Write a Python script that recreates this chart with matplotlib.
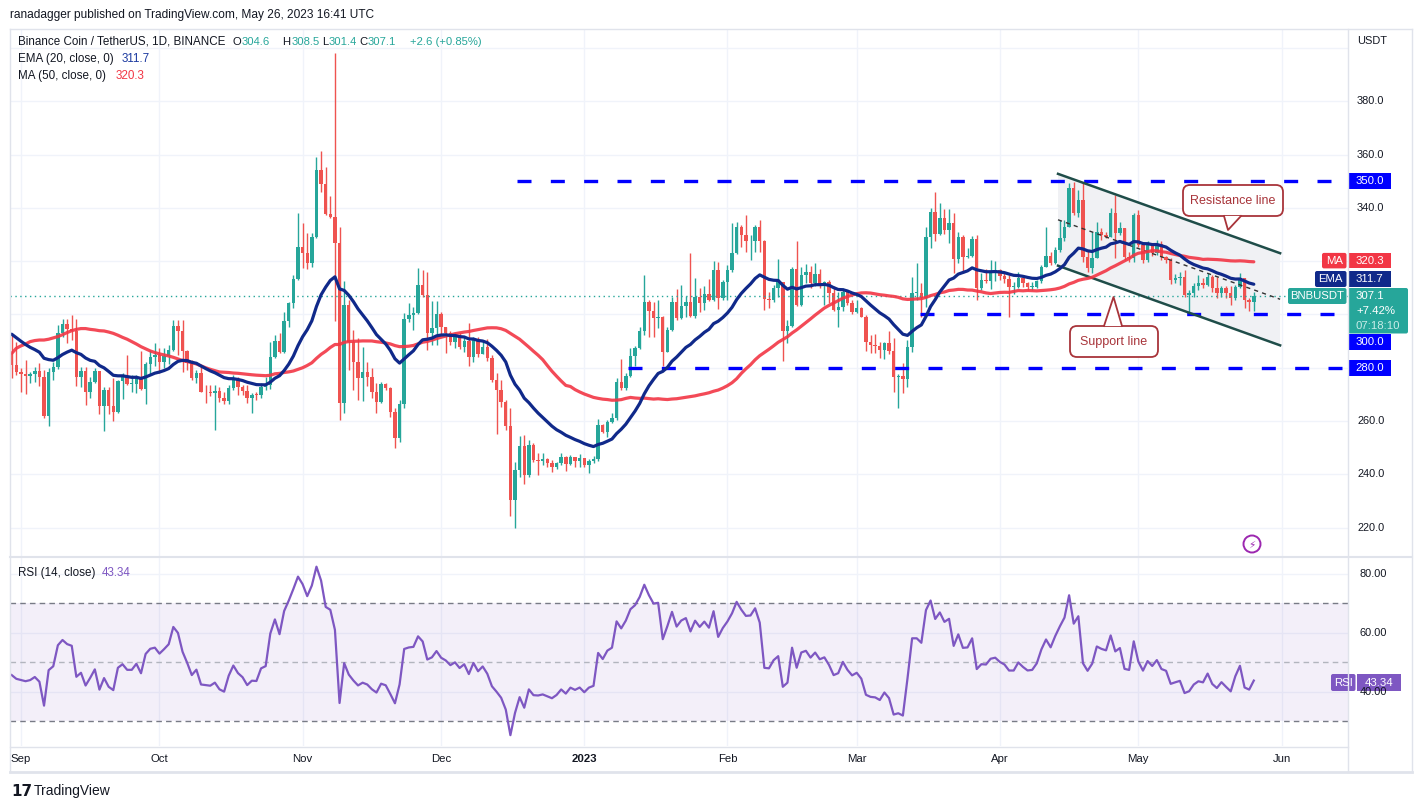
import numpy as np
import pandas as pd
import matplotlib
matplotlib.use("Agg")
import matplotlib.pyplot as plt
import matplotlib.dates as mdates
import matplotlib.transforms as mtrans
from matplotlib.patches import Rectangle, FancyBboxPatch, Polygon, Circle
from matplotlib.lines import Line2D

# ---- data (BNB/USDT daily, 30 Aug 2022 - 26 May 2023) ----
start_date = "2022-08-30"
first_open = 285.4

closes = [
    281.0, 278.5, 277.7, 277.0, 277.5, 278.8, 276.4, 262.0, 278.3, 280.4,
    292.9, 296.4, 294.4, 293.6, 276.7, 278.8, 270.7, 274.5, 278.8, 265.8,
    271.7, 265.8, 263.5, 275.0, 277.0, 273.8, 273.8, 276.7, 271.9, 281.4,
    284.2, 284.8, 282.3, 284.4, 286.7, 295.7, 293.6, 286.4, 281.7, 276.0,
    278.2, 271.0, 270.7, 270.4, 271.4, 268.5, 267.5, 272.3, 275.6, 272.9,
    271.4, 268.5, 269.7, 269.6, 272.9, 273.5, 283.9, 290.0, 286.0, 297.5,
    304.2, 313.2, 325.5, 323.2, 319.5, 329.2, 354.3, 349.0, 337.8, 336.5,
    327.0, 266.6, 303.6, 289.8, 282.3, 276.0, 278.5, 276.4, 271.0, 267.3,
    273.9, 272.3, 263.5, 253.5, 266.4, 298.2, 299.8, 300.4, 311.1, 307.3,
    292.9, 294.8, 300.2, 295.2, 293.2, 289.8, 291.7, 287.9, 290.2, 283.9,
    290.4, 285.2, 287.9, 283.5, 275.4, 271.6, 267.3, 258.1, 230.3, 241.6,
    250.6, 239.7, 251.0, 245.4, 245.1, 245.7, 244.1, 242.6, 244.1, 246.6,
    243.9, 246.4, 245.1, 246.0, 243.5, 245.1, 245.7, 258.5, 256.0, 259.7,
    261.0, 274.8, 272.3, 276.9, 284.4, 287.3, 293.6, 304.8, 301.4, 298.6,
    299.2, 286.0, 294.2, 304.8, 298.6, 303.0, 304.8, 299.4, 306.7, 304.2,
    307.7, 305.4, 316.7, 306.0, 312.0, 316.7, 323.0, 333.0, 329.9, 327.4,
    327.7, 333.0, 327.7, 305.7, 305.4, 309.8, 312.0, 293.6, 295.7, 317.1,
    303.6, 314.8, 316.1, 311.7, 315.2, 311.1, 312.3, 307.9, 301.7, 302.7,
    308.6, 304.2, 301.1, 302.3, 299.2, 289.8, 288.5, 288.2, 286.7, 289.2,
    286.3, 276.6, 277.0, 275.6, 287.9, 308.0, 308.0, 306.1, 329.2, 338.6,
    330.2, 336.1, 331.7, 334.2, 320.7, 329.2, 321.7, 322.0, 328.2, 309.8,
    312.9, 312.7, 316.1, 316.7, 314.5, 313.2, 310.2, 310.2, 313.6, 311.7,
    310.2, 310.4, 312.7, 317.9, 322.0, 319.5, 324.2, 328.6, 333.0, 347.4,
    338.0, 342.8, 321.7, 317.3, 321.1, 331.1, 329.9, 329.2, 338.0, 330.5,
    332.4, 321.7, 321.1, 337.4, 326.1, 320.5, 326.1, 323.2, 326.5, 321.5,
    320.5, 312.9, 313.6, 314.2, 307.3, 308.0, 310.5, 311.7, 311.2, 314.2,
    309.8, 308.0, 309.8, 307.9, 306.1, 310.4, 313.6, 305.4, 304.5, 307.1,
]

highs = [
    292.3, 289.8, 279.8, 282.9, 278.5, 280.4, 281.7, 279.2, 279.8, 282.3,
    296.1, 298.3, 298.3, 299.8, 298.3, 280.4, 280.4, 276.7, 279.8, 278.8,
    272.9, 272.9, 276.0, 275.4, 277.9, 284.8, 277.3, 277.3, 286.1, 282.3,
    286.7, 289.2, 287.3, 287.3, 288.6, 298.0, 298.0, 298.0, 286.7, 282.9,
    279.2, 280.4, 273.5, 273.5, 273.5, 272.9, 271.0, 273.5, 277.3, 276.7,
    273.5, 273.5, 270.4, 271.0, 274.1, 276.4, 289.8, 292.3, 292.9, 301.1,
    304.8, 314.8, 338.0, 334.5, 330.7, 330.5, 359.0, 361.2, 355.5, 344.3,
    398.1, 332.7, 312.7, 305.4, 294.2, 291.0, 287.9, 282.3, 279.8, 274.4,
    274.8, 274.4, 272.9, 264.8, 267.9, 300.4, 304.2, 302.9, 317.3, 316.7,
    316.1, 305.2, 305.2, 301.1, 293.6, 293.6, 293.2, 292.9, 291.4, 296.9,
    291.7, 291.4, 290.4, 290.7, 284.8, 277.9, 275.4, 267.9, 264.8, 244.7,
    254.4, 254.7, 252.9, 251.6, 248.1, 247.9, 246.0, 245.4, 244.7, 248.1,
    246.9, 247.2, 246.4, 247.6, 245.4, 245.7, 246.9, 260.6, 258.9, 260.4,
    263.1, 276.0, 283.2, 277.9, 287.3, 288.2, 295.4, 315.0, 305.4, 304.8,
    305.4, 299.4, 295.4, 306.7, 309.4, 311.1, 306.9, 323.0, 313.6, 309.8,
    310.5, 313.2, 320.2, 319.8, 313.0, 318.6, 334.2, 334.9, 333.6, 337.4,
    329.9, 333.6, 335.5, 328.0, 308.6, 311.1, 320.7, 312.0, 297.9, 317.7,
    327.6, 317.7, 319.0, 318.2, 319.5, 317.0, 312.7, 313.0, 310.5, 308.6,
    309.8, 309.2, 305.4, 305.4, 302.9, 299.7, 292.3, 292.7, 289.8, 289.8,
    293.9, 291.0, 277.6, 281.7, 290.4, 314.0, 319.2, 311.7, 332.7, 339.9,
    346.1, 341.8, 339.5, 339.5, 338.2, 331.1, 329.9, 324.8, 329.5, 329.7,
    315.7, 317.0, 320.5, 320.2, 317.0, 315.5, 314.8, 312.3, 316.1, 314.8,
    312.3, 312.3, 312.9, 318.6, 333.0, 323.6, 325.2, 335.5, 335.5, 349.5,
    349.9, 346.8, 349.3, 324.2, 331.1, 334.9, 332.4, 331.1, 339.9, 344.9,
    334.9, 331.1, 323.6, 338.0, 339.3, 327.0, 327.4, 326.7, 328.0, 327.4,
    322.0, 321.1, 315.2, 316.1, 316.7, 309.2, 311.7, 314.8, 313.6, 315.7,
    314.8, 314.2, 310.5, 310.5, 310.5, 311.1, 315.5, 313.6, 306.1, 308.5,
]

lows = [
    276.0, 277.3, 270.7, 270.2, 274.2, 274.8, 273.2, 261.0, 258.3, 275.4,
    279.4, 291.7, 289.4, 290.4, 273.2, 272.9, 266.0, 268.5, 274.2, 262.6,
    256.4, 262.6, 260.1, 262.9, 268.2, 273.5, 270.7, 270.4, 271.7, 266.3,
    277.3, 280.7, 277.9, 279.8, 281.4, 286.1, 284.8, 278.5, 279.2, 275.4,
    274.4, 270.7, 266.9, 269.2, 256.6, 267.3, 266.5, 266.5, 271.5, 269.8,
    269.8, 266.6, 263.1, 267.9, 268.5, 271.6, 271.9, 283.5, 285.4, 285.4,
    295.2, 302.3, 313.0, 317.3, 317.0, 318.0, 328.6, 345.8, 337.4, 336.1,
    297.7, 260.4, 263.1, 279.2, 271.6, 267.9, 267.6, 273.0, 268.5, 262.9,
    266.6, 271.6, 261.6, 249.7, 252.2, 264.8, 297.3, 294.2, 300.2, 306.7,
    286.7, 288.6, 288.6, 292.3, 285.4, 288.6, 287.3, 286.9, 286.0, 280.7,
    282.3, 283.9, 285.2, 282.7, 274.8, 255.1, 265.4, 256.6, 224.3, 219.7,
    239.1, 236.3, 238.8, 244.7, 239.7, 243.5, 242.9, 241.0, 241.9, 243.5,
    241.4, 243.5, 242.9, 242.9, 242.9, 240.6, 244.4, 245.1, 255.4, 254.1,
    259.1, 260.4, 271.6, 271.6, 276.4, 280.7, 286.9, 292.3, 291.7, 291.7,
    294.8, 280.6, 285.8, 293.6, 297.9, 298.2, 299.2, 299.2, 298.6, 301.1,
    301.7, 305.2, 305.2, 301.9, 305.4, 305.4, 316.1, 322.7, 325.5, 323.6,
    320.5, 323.6, 323.6, 301.7, 302.3, 304.8, 306.7, 282.7, 289.4, 295.2,
    303.2, 303.2, 311.7, 309.8, 310.7, 309.8, 303.6, 304.2, 301.4, 295.4,
    301.4, 303.6, 300.2, 300.4, 298.9, 286.4, 285.4, 285.7, 283.5, 283.2,
    285.2, 271.0, 264.8, 270.4, 272.9, 286.0, 305.4, 299.2, 302.7, 324.8,
    327.7, 329.9, 330.2, 327.0, 315.7, 319.2, 315.7, 321.1, 321.5, 305.4,
    309.2, 311.7, 309.4, 312.7, 313.0, 311.7, 299.2, 307.7, 309.8, 310.2,
    309.2, 309.2, 309.8, 311.7, 317.7, 318.6, 319.0, 323.6, 327.4, 332.7,
    337.4, 336.7, 319.8, 316.1, 315.5, 323.6, 328.0, 328.6, 329.9, 321.1,
    329.9, 320.5, 319.8, 319.8, 325.5, 319.5, 319.8, 322.0, 322.3, 320.5,
    319.5, 311.5, 311.7, 311.1, 306.7, 301.0, 306.7, 309.2, 309.8, 310.5,
    308.6, 306.1, 306.7, 306.1, 303.6, 305.4, 309.8, 302.3, 301.4, 301.4,
]

# MA(50) as drawn for the first 49 days (its history lies left of the chart)
ma_head = [
    285.4, 287.3, 288.2, 288.9, 289.8, 290.2, 290.4, 290.4, 290.7, 291.2,
    291.7, 292.4, 293.2, 293.9, 294.4, 294.7, 294.7, 294.4, 294.2, 293.9,
    293.8, 293.4, 292.9, 292.2, 291.4, 290.7, 289.8, 288.9, 287.9, 287.1,
    286.3, 285.7, 285.2, 284.8, 284.4, 283.9, 283.3, 282.7, 282.3, 281.9,
    281.4, 280.7, 280.0, 279.4, 278.9, 278.4, 278.3, 278.2, 278.0,
]
ema_start = 293.8          # EMA(20) value just left of the first candle
rsi_gain0, rsi_loss0 = 3.3, 3.6

# values printed in the legend / price scale
last_o, last_h, last_l, last_c = "304.6", "308.5", "301.4", "307.1"
ema_label, ma_label, rsi_label = "311.7", "320.3", "43.34"

# horizontal levels and their start days (days after start_date)
levels = [350.0, 300.0, 280.0]
level_start = [109.4, 196.7, 133.5]
# channel: (day, price) end points
chan_upper = [(226.6, 352.8), (274.7, 323.0)]
chan_lower = [(226.6, 318.3), (274.7, 288.4)]

month_labels = ["Sep", "Oct", "Nov", "Dec", "2023", "Feb", "Mar", "Apr", "May", "Jun"]
price_ticks = [380, 360, 340, 260, 240, 220]
rsi_ticks = [80, 60, 40]

# ---- indicators ----
closes = np.array(closes)
n = len(closes)
opens = np.r_[first_open, closes[:-1]]
highs = np.maximum.reduce([np.array(highs), opens, closes])
lows = np.minimum.reduce([np.array(lows), opens, closes])

ema = []
prev = ema_start
for c in closes:
    prev = prev + 2 / 21 * (c - prev)
    ema.append(prev)

ma = list(ma_head) + [closes[i - 49:i + 1].mean() for i in range(49, n)]

rsi = []
ag, al, prev = rsi_gain0, rsi_loss0, first_open
for c in closes:
    d = c - prev
    ag = (ag * 13 + max(d, 0)) / 14
    al = (al * 13 + max(-d, 0)) / 14
    rsi.append(100 * ag / (ag + al))
    prev = c

# ---- figure ----
plt.rcParams['font.family'] = ['Liberation Sans', 'DejaVu Sans']
W, H = 1422, 809
fig = plt.figure(figsize=(W / 100, H / 100), dpi=100)
fig.patch.set_facecolor('white')
px = mtrans.Affine2D().scale(0.01, -0.01).translate(0, H / 100) + fig.dpi_scale_trans

def fr(x0, y0, x1, y1):
    return [x0 / W, 1 - y1 / H, (x1 - x0) / W, (y1 - y0) / H]

ax = fig.add_axes(fr(10, 29.5, 1348, 556))
rax = fig.add_axes(fr(10, 557, 1348, 746))

t0 = mdates.date2num(pd.Timestamp(start_date))
x = t0 + np.arange(n)
xlim = (t0 - 0.37, t0 + 289.4)
for a in (ax, rax):
    a.set_xlim(*xlim)
    a.set_xticks([])
    a.set_yticks([])
    for s in a.spines.values():
        s.set_visible(False)
ax.set_ylim(209.3, 407.0)
rax.set_ylim(21.5, 85.7)

GRID = '#f0f3fa'
months = mdates.date2num(pd.date_range("2022-09-01", "2023-06-01", freq="MS"))
for a in (ax, rax):
    for m in months:
        a.axvline(m, color=GRID, lw=1, zorder=0)
for p in range(220, 401, 20):
    ax.axhline(p, color=GRID, lw=1, zorder=0)
for r in rsi_ticks:
    rax.axhline(r, color=GRID, lw=1, zorder=0)

# channel
cu = [(t0 + d, p) for d, p in chan_upper]
cl = [(t0 + d, p) for d, p in chan_lower]
ax.add_patch(Polygon(cu + cl[::-1], closed=True, fc='#f0f1f4', ec='none', zorder=0.5))
ax.plot([cu[0][0], cu[1][0]], [cu[0][1], cu[1][1]], color='#1f4d49', lw=1.8, zorder=4)
ax.plot([cl[0][0], cl[1][0]], [cl[0][1], cl[1][1]], color='#1f4d49', lw=1.8, zorder=4)
ax.plot([cu[0][0], cu[1][0]], [(cu[0][1] + cl[0][1]) / 2, (cu[1][1] + cl[1][1]) / 2],
        color='#333333', lw=1, ls=(0, (3, 3)), zorder=4)

# levels
for lv, ds in zip(levels, level_start):
    ax.hlines(lv, t0 + ds, xlim[1], color='#0000ff', lw=2.4, linestyles=[(0, (4.2, 5.8))], zorder=3)

# candles
up = closes >= opens
cols = np.where(up, '#26a69a', '#ef5350')
ax.vlines(x, lows, highs, colors=cols, lw=1, zorder=2)
body = np.maximum(np.abs(closes - opens), 0.35)
ax.bar(x, body, bottom=np.minimum(opens, closes), width=0.74, color=cols, lw=0, zorder=2)

ax.axhline(closes[-1], color='#26a69a', lw=1, ls=(0, (1, 2.5)), zorder=3)
ax.plot(x, ma, color='#f23645', lw=2.3, alpha=0.9, zorder=5, solid_capstyle='round')
ax.plot(x, ema, color='#10298a', lw=2.3, zorder=6, solid_capstyle='round')

# RSI pane
rax.axhspan(30, 70, color='#7e57c2', alpha=0.09, lw=0, zorder=0)
for r, c in ((70, '#787b86'), (50, '#b2b5be'), (30, '#787b86')):
    rax.axhline(r, color=c, lw=1, ls=(0, (4, 3)), zorder=1)
rax.plot(x, rsi, color='#7e57c2', lw=1.6, zorder=3)

# ---- frame lines ----
BORDER = '#e0e3eb'
def pline(xs, ys, c=BORDER, lw=1.0):
    fig.add_artist(Line2D(xs, ys, color=c, lw=lw, transform=px))

pline([9.5, 1412], [29, 29])
pline([9.5, 9.5], [29, 772])
pline([1412, 1412], [29, 772])
pline([9.5, 1412], [772, 772], lw=2)
pline([9.5, 1412], [556.5, 556.5], lw=1.5)
pline([9.5, 1348], [746.5, 746.5])
pline([1348, 1348], [29, 772])

def ptxt(xp, yp, s, **kw):
    kw.setdefault('va', 'center')
    kw.setdefault('color', '#131722')
    fig.text(xp, yp, s, transform=px, **kw)

def price_y(a, v):
    return H - a.transData.transform((xlim[0], v))[1]

# header and legends
FS = 8.1
TEAL = '#26a69a'
ptxt(10, 15, "ranadagger published on TradingView.com, May 26, 2023 16:41 UTC", fontsize=8.6)
ptxt(18, 42, "Binance Coin / TetherUS, 1D, BINANCE", fontsize=8.4)
for xp, s, c in ((232.5, "O", '#131722'), (241.5, last_o, TEAL), (282.5, "H", '#131722'),
                 (291.5, last_h, TEAL), (322.5, "L", '#131722'), (329, last_l, TEAL),
                 (359.5, "C", '#131722'), (368, last_c, TEAL), (410, "+2.6 (+0.85%)", TEAL)):
    ptxt(xp, 42, s, fontsize=FS, color=c)
ptxt(18, 59, "EMA (20, close, 0)", fontsize=8.4)
ptxt(122, 59, ema_label, fontsize=8.4, color='#1c3aa0')
ptxt(18, 76, "MA (50, close, 0)", fontsize=8.4)
ptxt(116, 76, ma_label, fontsize=8.4, color='#f23645')
ptxt(18, 573, "RSI (14, close)", fontsize=8.4)
ptxt(102, 573, rsi_label, fontsize=8.4, color='#7e57c2')

# axis labels
ptxt(1357, 41, "USDT", fontsize=7.9)
for p in price_ticks:
    ptxt(1357, price_y(ax, p), f"{p:.1f}", fontsize=7.9)
for r in rsi_ticks:
    ptxt(1360, price_y(rax, r), f"{r:.2f}", fontsize=7.9)
for m, lab in zip(months, month_labels):
    xp = ax.transData.transform((m, 300))[0]
    ptxt(xp, 759, lab, fontsize=8.2, ha='center', fontweight='bold' if lab == "2023" else 'normal')

def pbox(x0, x1, y0, y1, fc, text, tc='white', fs=8.2, r=0):
    if r:
        fig.add_artist(FancyBboxPatch((x0, y0), x1 - x0, y1 - y0, boxstyle=f"round,pad=0,rounding_size={r}",
                                      fc=fc, ec='none', transform=px))
    else:
        fig.add_artist(Rectangle((x0, y0), x1 - x0, y1 - y0, fc=fc, ec='none', transform=px))
    if text:
        ptxt((x0 + x1) / 2, (y0 + y1) / 2, text, ha='center', color=tc, fontsize=fs)

BLUE = '#0000ff'
y350 = price_y(ax, 350)
pbox(1348, 1391, y350 - 8, y350 + 8, BLUE, "350.0")
pbox(1348, 1391, 334, 349.5, BLUE, "300.0")
y280 = price_y(ax, 280)
pbox(1348, 1391, y280 - 8, y280 + 8, BLUE, "280.0")
yma = price_y(ax, float(ma_label))
pbox(1322, 1346.5, yma - 7.5, yma + 8, '#f23645', "MA", r=2)
pbox(1348, 1391, yma - 7.5, yma + 8, '#f23645', ma_label)
pbox(1315, 1346.5, 271, 287, '#10298a', "EMA", r=2)
pbox(1348, 1391, 271, 287, '#10298a', ema_label)
pbox(1288, 1346.5, 288, 304, TEAL, "BNBUSDT", r=2)
pbox(1348, 1408, 288, 333.5, TEAL, None, r=2)
ptxt(1356, 296, last_c, color='white', fontsize=8.2)
ptxt(1356, 311, "+7.42%", color='white', fontsize=8.2)
ptxt(1356, 326, "07:18:10", color='#c8ece8', fontsize=8.2)
pbox(1331, 1355.5, 674, 691, '#7e57c2', "RSI", r=2)
pbox(1357, 1401, 674, 691, '#7e57c2', rsi_label)

# callouts
def callout(x0, y0, x1, y1, base, tip, text):
    ec = '#a8343a'
    fig.add_artist(FancyBboxPatch((x0, y0), x1 - x0, y1 - y0, boxstyle="round,pad=0,rounding_size=7",
                                  fc='white', ec=ec, lw=1.3, transform=px))
    (bx0, by), (bx1, _) = base
    fig.add_artist(Polygon([(bx0, by), tip, (bx1, by)], closed=True, fc='white', ec='none', transform=px))
    fig.add_artist(Line2D([bx0, tip[0], bx1], [by, tip[1], by], color=ec, lw=1.3, transform=px))
    ptxt((x0 + x1) / 2, (y0 + y1) / 2, text, ha='center', color='#a8343a', fontsize=9)

callout(1183, 185, 1283, 216, ((1224, 216), (1241, 216)), (1228, 230), "Resistance line")
callout(1070, 326, 1158, 357, ((1104, 326), (1122, 326)), (1113.5, 297), "Support line")

# lightning icon
fig.add_artist(Circle((1252, 544), 8.5, fc='white', ec='#9c27b0', lw=1.4, transform=px))
ptxt(1252, 544.5, "\u26a1", ha='center', color='#9c27b0', fontsize=7.5, family='DejaVu Sans')

# TradingView logo
ptxt(11, 791, "17", fontsize=11, fontweight='heavy', family='DejaVu Sans')
ptxt(34, 791, "TradingView", fontsize=10)

fig.savefig("out.png", dpi=100, facecolor='white')
